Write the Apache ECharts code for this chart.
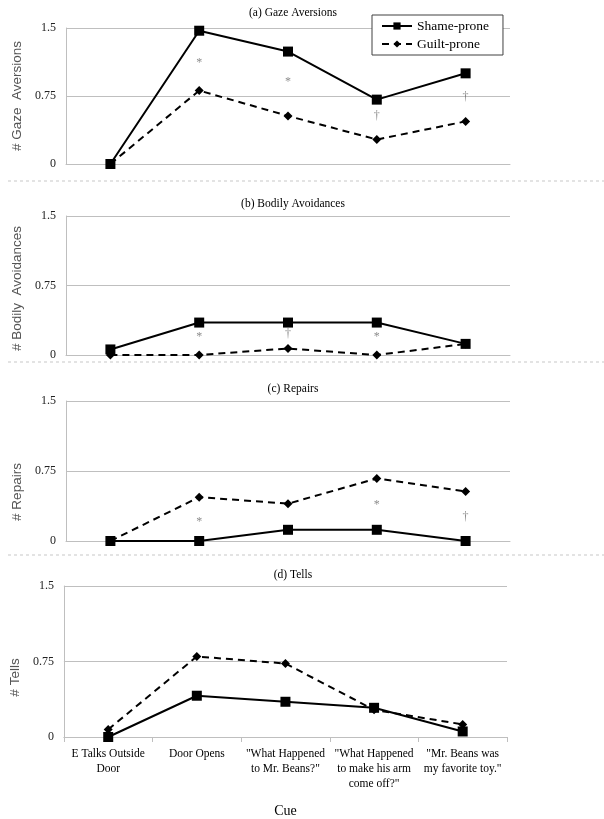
<!DOCTYPE html>
<html>
<head>
<meta charset="utf-8">
<script src="https://cdn.jsdelivr.net/npm/echarts@6/dist/echarts.min.js"></script>
<style>
  html, body { margin: 0; padding: 0; background: #fff; }
  #chart { width: 604px; height: 819px; }
</style>
</head>
<body>
<div id="chart"></div>
<script>
const cues = [
  'E Talks Outside\nDoor',
  'Door Opens',
  '"What Happened\nto Mr. Beans?"',
  '"What Happened\nto make his arm\ncome off?"',
  '"Mr. Beans was\nmy favorite toy."'
];
const panelTitles = ['(a) Gaze Aversions', '(b) Bodily Avoidances', '(c) Repairs', '(d) Tells'];
const axisNames = ['# Gaze  Aversions', '# Bodily  Avoidances', '# Repairs', '# Tells'];
const yTicks = [0, 0.75, 1.5];

const shameGaze = [0, 1.47, 1.24, 0.71, 1.0];
const guiltGaze = [0, 0.81, 0.53, 0.27, 0.47];
const shameBodily = [0.06, 0.35, 0.35, 0.35, 0.12];
const guiltBodily = [0, 0, 0.07, 0, 0.12];
const shameRepairs = [0, 0, 0.12, 0.12, 0];
const guiltRepairs = [0, 0.47, 0.40, 0.67, 0.53];
const shameTells = [0, 0.41, 0.35, 0.29, 0.055];
const guiltTells = [0.075, 0.80, 0.73, 0.27, 0.125];

// significance marks: [cue index, height, mark]
const marksGaze = [[1, 1.12, '*'], [2, 0.91, '*'], [3, 0.53, '†'], [4, 0.74, '†']];
const marksBodily = [[1, 0.2, '*'], [2, 0.23, '†'], [3, 0.2, '*']];
const marksRepairs = [[1, 0.21, '*'], [3, 0.39, '*'], [4, 0.26, '†']];
const marksTells = [];

const shame = [shameGaze, shameBodily, shameRepairs, shameTells];
const guilt = [guiltGaze, guiltBodily, guiltRepairs, guiltTells];
const marks = [marksGaze, marksBodily, marksRepairs, marksTells];

const serif = '"Liberation Serif", "Times New Roman", serif';
const sans = '"Liberation Sans", Arial, sans-serif';
const gridColor = '#bfbfbf';

// panel boxes in px
const boxes = [
  { left: 66, width: 444, top: 28, height: 136, titleTop: 2, namePad: [0, 0, 0, 0] },
  { left: 66, width: 444, top: 216, height: 139, titleTop: 193, namePad: [0, 6, 0, 0] },
  { left: 66, width: 444, top: 401, height: 140, titleTop: 378, namePad: [0, 42, 0, 0] },
  { left: 62, width: 445, top: 586, height: 152, titleTop: 564, namePad: [0, 32, 0, 0] }
];

const chart = echarts.init(document.getElementById('chart'));

const option = {
  animation: false,
  backgroundColor: '#fff',
  title: boxes.map((b, i) => ({
    text: panelTitles[i],
    left: 288,
    top: b.titleTop,
    textAlign: 'center',
    textStyle: { fontFamily: serif, fontSize: 11.5, fontWeight: 'normal', color: '#000' }
  })),
  legend: {
    data: ['Shame-prone', 'Guilt-prone'],
    orient: 'vertical',
    left: 372,
    top: 15,
    padding: [4, 14, 4, 9],
    itemWidth: 30,
    itemHeight: 9,
    itemGap: 4,
    borderColor: '#404040',
    borderWidth: 1,
    backgroundColor: '#fff',
    textStyle: { fontFamily: serif, fontSize: 13.5, color: '#000' }
  },
  grid: boxes.map(b => ({ left: b.left, width: b.width, top: b.top, height: b.height })),
  xAxis: boxes.map((b, i) => ({
    type: 'category',
    gridIndex: i,
    data: cues,
    boundaryGap: true,
    axisLine: { lineStyle: { color: gridColor, width: 1 } },
    axisTick: { show: i === 3, length: 5, lineStyle: { color: gridColor } },
    axisLabel: {
      show: i === 3,
      margin: 9,
      interval: 0,
      fontFamily: serif,
      fontSize: 11.5,
      lineHeight: 15,
      color: '#000'
    },
    name: i === 3 ? 'Cue' : '',
    nameLocation: 'middle',
    nameGap: 67,
    nameTextStyle: { fontFamily: serif, fontSize: 14, color: '#000' }
  })),
  yAxis: boxes.map((b, i) => ({
    type: 'value',
    gridIndex: i,
    min: yTicks[0],
    max: yTicks[yTicks.length - 1],
    interval: yTicks[1] - yTicks[0],
    axisLine: { show: true, lineStyle: { color: gridColor } },
    axisTick: { show: false },
    splitLine: { lineStyle: { color: gridColor, width: 1 } },
    axisLabel: { fontFamily: serif, fontSize: 12, color: '#222', margin: 10 },
    name: axisNames[i],
    nameLocation: 'middle',
    nameGap: 40,
    nameTextStyle: { fontFamily: sans, fontSize: 13.5, color: '#555', padding: b.namePad }
  })),
  series: [],
  graphic: [181, 362, 555].map(y => ({
    type: 'line',
    shape: { x1: 8, y1: y, x2: 604, y2: y },
    style: { stroke: '#c8c8c8', lineWidth: 1, lineDash: [3, 3] },
    z: 0
  }))
};

for (let i = 0; i < 4; i++) {
  option.series.push({
    name: 'Shame-prone',
    type: 'line',
    xAxisIndex: i,
    yAxisIndex: i,
    data: shame[i],
    symbol: 'rect',
    symbolSize: 10,
    itemStyle: { color: '#000' },
    lineStyle: { color: '#000', width: 2 },
    z: 3
  });
  option.series.push({
    name: 'Guilt-prone',
    type: 'line',
    xAxisIndex: i,
    yAxisIndex: i,
    data: guilt[i],
    symbol: 'diamond',
    symbolSize: 9,
    itemStyle: { color: '#000' },
    lineStyle: { color: '#000', width: 2, type: [7, 5] },
    z: 2
  });
  option.series.push({
    name: 'sig',
    type: 'scatter',
    xAxisIndex: i,
    yAxisIndex: i,
    data: marks[i],
    symbolSize: 1,
    itemStyle: { color: 'transparent' },
    label: {
      show: true,
      position: 'inside',
      formatter: p => p.value[2],
      fontFamily: serif,
      fontSize: 12,
      color: '#6f6f6f'
    },
    silent: true
  });
}

chart.setOption(option);
</script>
</body>
</html>
